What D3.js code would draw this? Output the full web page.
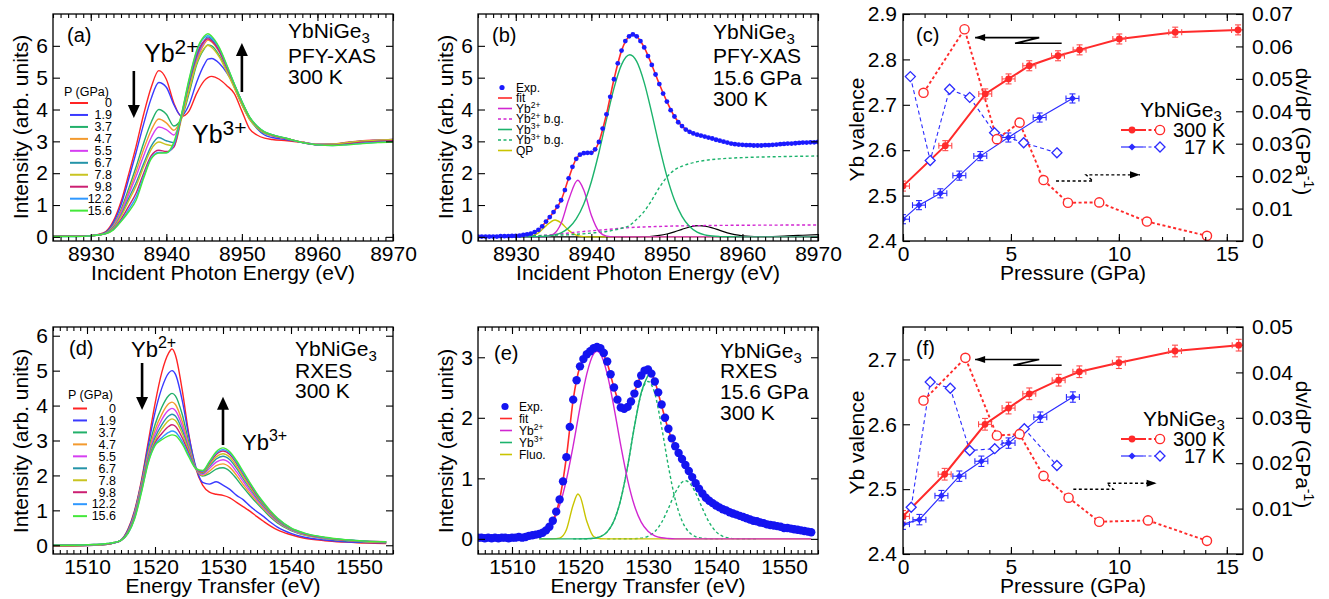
<!DOCTYPE html>
<html><head><meta charset="utf-8">
<script src="https://cdn.jsdelivr.net/npm/d3@7"></script>
<style>
body{margin:0;background:#fff;}
svg{display:block;}
</style></head><body>
<svg id="fig" width="1329" height="599"></svg>
<script>
// ---------------- DATA ----------------
// (a) PFY-XAS, 300 K
const pLabels = ["0","1.9","3.7","4.7","5.5","6.7","7.8","9.8","12.2","15.6"];
const eA = [8925,8928,8930,8931,8932,8933,8934,8935,8936,8937,8938,8939,8940,8941,8942,8943,8944,8945,8945.5,8946,8947,8948,8949,8950,8951,8952,8953,8954,8956,8958,8960,8962,8964,8966,8968,8970];
const xasP0   = [0.02,0.02,0.04,0.08,0.17,0.5,1.1,1.95,2.85,3.85,4.7,5.22,4.95,4.2,3.78,3.95,4.5,4.9,5.0,5.04,4.95,4.75,4.5,3.95,3.4,3.2,3.1,3.06,3.02,2.97,2.9,2.92,2.97,3.02,3.04,3.06];
const xasP19  = [0.02,0.02,0.04,0.07,0.15,0.45,1.0,1.8,2.65,3.55,4.35,4.85,4.7,4.15,3.8,4.15,4.85,5.4,5.58,5.6,5.45,5.15,4.75,4.25,3.75,3.4,3.2,3.12,3.05,2.97,2.91,2.91,2.96,3.01,3.04,3.06];
const xasP37  = [0.02,0.02,0.04,0.06,0.13,0.38,0.85,1.5,2.2,2.95,3.6,4.0,3.85,3.48,3.72,4.5,5.4,5.9,6.03,6.0,5.7,5.25,4.7,4.15,3.7,3.42,3.25,3.17,3.07,2.97,2.9,2.9,2.94,2.99,3.02,3.04];
const xasP47  = [0.02,0.02,0.04,0.06,0.12,0.35,0.8,1.4,2.05,2.75,3.35,3.7,3.58,3.35,3.74,4.6,5.5,6.05,6.18,6.12,5.8,5.3,4.75,4.2,3.72,3.44,3.27,3.18,3.08,2.97,2.9,2.9,2.95,3.0,3.03,3.05];
const xasP55  = [0.02,0.02,0.04,0.06,0.12,0.33,0.75,1.32,1.9,2.55,3.12,3.45,3.37,3.2,3.76,4.68,5.58,6.1,6.24,6.17,5.83,5.32,4.77,4.22,3.74,3.45,3.28,3.19,3.08,2.97,2.9,2.9,2.95,3.0,3.03,3.05];
const xasP67  = [0.02,0.02,0.04,0.06,0.11,0.3,0.68,1.2,1.7,2.3,2.85,3.12,3.02,2.96,3.76,4.78,5.66,6.15,6.28,6.2,5.86,5.34,4.78,4.23,3.75,3.46,3.28,3.2,3.08,2.96,2.89,2.89,2.94,2.99,3.02,3.04];
const xasP78  = [0.02,0.02,0.04,0.06,0.11,0.28,0.64,1.12,1.6,2.2,2.75,2.98,2.9,2.86,3.7,4.62,5.45,5.92,6.02,5.95,5.65,5.18,4.68,4.15,3.7,3.43,3.27,3.19,3.08,2.97,2.9,2.91,2.96,3.01,3.04,3.05];
const xasP98  = [0.02,0.02,0.03,0.06,0.1,0.25,0.55,0.95,1.38,2.0,2.55,2.72,2.68,2.82,3.8,4.85,5.72,6.15,6.22,6.15,5.85,5.33,4.78,4.23,3.76,3.47,3.29,3.2,3.08,2.96,2.89,2.88,2.92,2.97,3.0,3.02];
const xasP122 = [0.01,0.01,0.03,0.06,0.1,0.23,0.5,0.85,1.25,1.9,2.48,2.65,2.64,2.9,3.82,4.9,5.8,6.25,6.32,6.25,5.92,5.38,4.8,4.25,3.77,3.48,3.3,3.21,3.09,2.96,2.89,2.87,2.9,2.94,2.97,2.99];
const xasP156 = [0.01,0.01,0.03,0.06,0.1,0.22,0.48,0.78,1.15,1.84,2.45,2.63,2.64,2.98,3.85,4.95,5.85,6.3,6.38,6.3,5.95,5.4,4.8,4.25,3.78,3.48,3.3,3.21,3.09,2.96,2.89,2.87,2.89,2.93,2.96,2.98];

// (b) PFY-XAS fit at 15.6 GPa
const eBdots = d3.range(8925, 8970.001, 0.5);
const expB = [0.01,0.01,0.01,0.01,0.01,0.01,0.02,0.02,0.02,0.03,
  0.03,0.04,0.06,0.08,0.1,0.15,0.22,0.33,0.48,0.62,
  0.78,0.95,1.15,1.47,1.84,2.2,2.45,2.58,2.63,2.64,
  2.64,2.75,2.98,3.4,3.85,4.4,4.95,5.45,5.85,6.15,
  6.3,6.36,6.3,6.15,5.95,5.68,5.4,5.1,4.8,4.5,
  4.25,3.98,3.78,3.6,3.48,3.37,3.3,3.25,3.21,3.18,
  3.15,3.12,3.09,3.05,3.02,2.99,2.96,2.93,2.91,2.9,
  2.89,2.88,2.88,2.87,2.87,2.87,2.88,2.88,2.89,2.9,
  2.91,2.92,2.93,2.93,2.94,2.95,2.96,2.96,2.97,2.97,2.98];
const fitB = [[8925,0.02],[8926,0.02],[8927,0.02],[8928,0.02],[8929,0.03],[8930,0.04],[8931,0.06],[8932,0.1],[8933,0.22],[8934,0.48],[8935,0.78],[8936,1.15],[8937,1.84],[8938,2.45],[8939,2.63],[8940,2.64],[8941,2.98],[8942,3.85],[8943,4.95],[8944,5.85],[8945,6.3],[8945.5,6.36],[8946,6.3],[8947,5.95],[8948,5.4],[8949,4.8],[8950,4.25],[8951,3.78],[8952,3.48],[8953,3.3],[8954,3.21],[8955,3.15],[8956,3.09],[8957,3.02],[8958,2.96],[8959,2.91],[8960,2.89],[8961,2.88],[8962,2.87],[8963,2.88],[8964,2.89],[8965,2.91],[8966,2.93],[8967,2.94],[8968,2.96],[8969,2.97],[8970,2.98]];
const qpB = [[8925,0],[8930,0],[8931,0.003],[8932,0.026],[8933,0.127],[8934,0.346],[8935.2,0.53],[8936,0.438],[8937,0.203],[8938,0.052],[8939,0.007],[8940,0],[8970,0]];
const yb2B = [[8925,0],[8933,0],[8934,0.01],[8935,0.085],[8936,0.425],[8937,1.162],[8938.2,1.78],[8939,1.472],[8940,0.682],[8941,0.175],[8942,0.025],[8943,0],[8970,0]];
const yb2bgB = [[8925,0.01],[8930,0.02],[8933,0.04],[8935,0.07],[8937,0.12],[8939,0.17],[8941,0.21],[8943,0.25],[8945,0.29],[8948,0.32],[8951,0.34],[8955,0.355],[8960,0.365],[8965,0.37],[8970,0.375]];
const yb3B = [[8925,0],[8931,0],[8932,0.002],[8933,0.007],[8934,0.02],[8935,0.053],[8936,0.128],[8937,0.282],[8938,0.565],[8939,1.035],[8940,1.733],[8941,2.643],[8942,3.68],[8943,4.672],[8944,5.41],[8945.1,5.72],[8946,5.51],[8947,4.846],[8948,3.888],[8949,2.846],[8950,1.9],[8951,1.157],[8952,0.643],[8953,0.326],[8954,0.15],[8955,0.064],[8956,0.025],[8957,0.009],[8958,0.003],[8960,0],[8970,0]];
const yb3bgB = [[8925,0.02],[8930,0.03],[8935,0.05],[8938,0.08],[8940,0.12],[8942,0.17],[8943,0.21],[8944,0.27],[8945,0.35],[8946,0.55],[8947,0.8],[8948,1.15],[8949,1.55],[8950,1.88],[8951,2.1],[8952,2.22],[8953,2.3],[8955,2.4],[8957,2.45],[8960,2.49],[8965,2.52],[8970,2.54]];
const bkB = [[8925,0],[8946,0],[8947,0.007],[8948,0.018],[8949,0.044],[8950,0.089],[8951,0.156],[8952,0.237],[8953,0.309],[8954.3,0.35],[8955,0.337],[8956,0.283],[8957,0.204],[8958,0.127],[8959,0.068],[8960,0.032],[8961,0.013],[8962,0.005],[8963,0.006],[8964,0.012],[8966,0.03],[8968,0.05],[8970,0.07]];

// (d) RXES, 300 K
const eD = [1505,1508,1511,1513,1514,1515,1516,1517,1518,1519,1520,1521,1522,1522.5,1523,1524,1525,1526,1527,1528,1529,1530,1531,1532,1533,1534,1535,1536,1537,1538,1540,1542,1545,1548,1551,1554];
const rxP0   = [-0.02,-0.02,0,0.03,0.07,0.15,0.45,1.0,1.85,2.95,4.05,4.95,5.5,5.62,5.45,4.45,3.15,2.2,1.72,1.52,1.46,1.43,1.36,1.23,1.1,0.97,0.82,0.68,0.55,0.44,0.3,0.2,0.13,0.09,0.06,0.05];
const rxP19  = [-0.01,-0.01,0,0.03,0.07,0.15,0.43,0.97,1.8,2.85,3.8,4.5,4.93,5.0,4.9,4.15,3.1,2.25,1.8,1.75,1.82,1.72,1.6,1.43,1.3,1.12,0.96,0.82,0.66,0.52,0.34,0.23,0.15,0.1,0.08,0.07];
const rxP37  = [-0.01,-0.01,0.01,0.03,0.07,0.14,0.4,0.92,1.75,2.7,3.45,3.95,4.28,4.35,4.28,3.75,2.92,2.2,1.98,2.05,2.18,2.22,2.12,1.9,1.65,1.42,1.2,1.0,0.8,0.64,0.42,0.29,0.19,0.13,0.1,0.08];
const rxP47  = [-0.01,-0.01,0.01,0.03,0.07,0.14,0.38,0.9,1.72,2.62,3.3,3.75,4.05,4.1,4.03,3.55,2.84,2.2,2.0,2.12,2.28,2.33,2.23,2.0,1.73,1.48,1.25,1.04,0.84,0.67,0.44,0.3,0.2,0.14,0.1,0.08];
const rxP55  = [0,0,0.01,0.04,0.07,0.14,0.37,0.88,1.68,2.56,3.18,3.6,3.87,3.92,3.86,3.42,2.78,2.2,2.03,2.2,2.38,2.45,2.35,2.1,1.82,1.55,1.3,1.08,0.87,0.69,0.45,0.31,0.2,0.14,0.11,0.09];
const rxP67  = [0,0,0.01,0.04,0.07,0.14,0.36,0.85,1.65,2.5,3.08,3.45,3.7,3.75,3.7,3.3,2.72,2.2,2.06,2.26,2.47,2.55,2.45,2.2,1.9,1.62,1.35,1.12,0.9,0.71,0.46,0.32,0.21,0.15,0.11,0.09];
const rxP78  = [0,0,0.01,0.04,0.08,0.14,0.35,0.83,1.62,2.46,3.0,3.33,3.57,3.62,3.57,3.2,2.68,2.2,2.08,2.3,2.53,2.62,2.52,2.26,1.95,1.66,1.39,1.15,0.92,0.73,0.47,0.32,0.21,0.15,0.11,0.09];
const rxP98  = [0,0,0.02,0.04,0.08,0.14,0.34,0.8,1.58,2.42,2.93,3.2,3.4,3.45,3.41,3.08,2.62,2.2,2.1,2.35,2.6,2.7,2.6,2.34,2.02,1.72,1.43,1.18,0.95,0.75,0.48,0.33,0.22,0.15,0.12,0.1];
const rxP122 = [0,0,0.02,0.05,0.08,0.14,0.33,0.78,1.54,2.38,2.88,3.08,3.23,3.27,3.24,2.97,2.57,2.2,2.12,2.38,2.64,2.74,2.64,2.38,2.06,1.76,1.46,1.2,0.97,0.77,0.49,0.34,0.22,0.16,0.12,0.1];
const rxP156 = [0,0,0.02,0.05,0.08,0.14,0.33,0.75,1.5,2.35,2.85,3.02,3.13,3.16,3.14,2.9,2.52,2.2,2.14,2.4,2.68,2.79,2.68,2.42,2.1,1.78,1.48,1.22,0.98,0.78,0.5,0.35,0.23,0.16,0.12,0.1];

// (e) RXES fit at 15.6 GPa
const eEdots = d3.range(1505, 1554.001, 0.5);
const expE = [0.02,0.02,0.01,0.02,0.01,0.02,0.01,0.02,0.02,0.01,
  0.02,0.02,0.03,0.02,0.03,0.05,0.06,0.07,0.08,0.1,
  0.14,0.2,0.3,0.45,0.65,0.95,1.35,1.85,2.3,2.62,
  2.85,2.97,3.05,3.1,3.15,3.17,3.15,3.07,2.93,2.72,
  2.5,2.3,2.17,2.15,2.18,2.27,2.4,2.56,2.7,2.78,
  2.8,2.73,2.6,2.42,2.22,2.0,1.82,1.66,1.53,1.42,
  1.32,1.22,1.12,1.02,0.92,0.83,0.75,0.68,0.63,0.59,
  0.55,0.52,0.49,0.47,0.44,0.42,0.4,0.38,0.36,0.34,
  0.32,0.3,0.29,0.27,0.26,0.24,0.23,0.22,0.21,0.2,
  0.18,0.18,0.17,0.16,0.15,0.14,0.13,0.12,0.11];
const fitE = [[1514,0.07],[1515,0.15],[1516,0.3],[1517,0.65],[1518,1.35],[1519,2.3],[1520,2.85],[1521,3.04],[1522,3.13],[1522.5,3.16],[1523,3.12],[1524,2.9],[1525,2.5],[1526,2.2],[1527,2.18],[1528,2.42],[1529,2.71],[1530,2.81],[1531,2.6],[1532,2.2],[1533,1.8],[1534,1.52],[1535,1.33],[1536,1.13],[1537,0.93],[1538,0.75],[1539,0.63],[1540,0.55],[1541,0.49],[1542,0.44],[1544,0.36],[1546,0.29],[1548,0.23],[1550,0.18],[1552,0.14],[1554,0.11]];
const yb2E = [[1514,0.05],[1515,0.125],[1516,0.277],[1517,0.55],[1518,0.975],[1519,1.539],[1520,2.169],[1521,2.725],[1522,3.056],[1522.5,3.1],[1523,3.056],[1524,2.725],[1525,2.169],[1526,1.539],[1527,0.975],[1528,0.55],[1529,0.277],[1530,0.125],[1531,0.05],[1532,0.018],[1533,0.006],[1534,0],[1554,0]];
const fluoE = [[1514,0],[1516,0],[1517,0.013],[1518,0.15],[1519,0.564],[1519.7,0.74],[1520,0.704],[1521,0.29],[1522,0.039],[1523,0.002],[1524,0],[1554,0]];
const yb3E = [[1514,0],[1520,0],[1521,0.002],[1522,0.01],[1523,0.037],[1524,0.115],[1525,0.298],[1526,0.652],[1527,1.198],[1528,1.853],[1529,2.414],[1530,2.7]];
const yb3aE = [[1519,0],[1521,0.002],[1522,0.01],[1523,0.037],[1524,0.115],[1525,0.298],[1526,0.652],[1527,1.198],[1528,1.85],[1529,2.402],[1530,2.6],[1531,2.402],[1532,1.85],[1533,1.198],[1534,0.652],[1535,0.298],[1536,0.115],[1537,0.037],[1538,0.01],[1539,0.002],[1541,0]];
const yb3bE = [[1524,0],[1528,0.003],[1529,0.012],[1530,0.042],[1531,0.119],[1532,0.272],[1533,0.504],[1534,0.761],[1535,0.936],[1535.5,0.96],[1536,0.936],[1537,0.761],[1538,0.504],[1539,0.272],[1540,0.119],[1541,0.042],[1542,0.012],[1543,0.003],[1546,0]];

// (c) valence vs pressure, PFY-XAS
const pC300 = [0,1.96,3.81,4.89,5.85,7.18,8.18,10.02,12.61,15.52];
const vC300 = [2.521,2.61,2.724,2.757,2.786,2.808,2.821,2.845,2.86,2.865];
const pC17 = [0,0.74,1.73,2.61,3.58,4.88,6.33,7.85];
const vC17 = [2.448,2.479,2.505,2.544,2.587,2.628,2.672,2.714];
const dpC300 = [0.95,2.85,4.35,5.4,6.51,7.64,9.09,11.3,14.08];
const dvC300 = [0.0457,0.0653,0.0314,0.0365,0.0188,0.0118,0.0119,0.006,0.0016];
const dpC17 = [0.34,1.26,2.16,3.09,4.24,5.59,7.13];
const dvC17 = [0.0507,0.0248,0.0468,0.0443,0.0334,0.0303,0.0272];

// (f) valence vs pressure, RXES
const pF300 = [0,1.93,3.8,4.89,5.85,7.21,8.17,10.0,12.6,15.55];
const vF300 = [2.458,2.523,2.6,2.625,2.647,2.668,2.681,2.695,2.713,2.722];
const pF17 = [0,0.76,1.78,2.61,3.63,4.89,6.36,7.87];
const vF17 = [2.446,2.453,2.49,2.52,2.543,2.571,2.611,2.642];
const dpF300 = [0.95,2.89,4.35,5.4,6.51,7.67,9.09,11.35,14.08];
const dvF300 = [0.0338,0.0432,0.0261,0.0264,0.0172,0.0124,0.0071,0.0074,0.0029];
const dpF17 = [0.38,1.26,2.19,3.09,4.25,5.62,7.13];
const dvF17 = [0.0103,0.0379,0.0365,0.0228,0.0232,0.0276,0.0195];
const pErr = 0.3;

// tick values
const xTicksXAS = [8930,8940,8950,8960,8970];
const xTicksRXES = [1510,1520,1530,1540,1550];
const xTicksP = [0,5,10,15];
const yTicksInt6 = [0,1,2,3,4,5,6];
const yTicksInt3 = [0,1,2,3];
const yTicksValC = [2.4,2.5,2.6,2.7,2.8,2.9];
const yTicksValF = [2.4,2.5,2.6,2.7];
const yTicksDvC = [0,0.01,0.02,0.03,0.04,0.05,0.06,0.07];
const yTicksDvF = [0,0.01,0.02,0.03,0.04,0.05];

// ---------------- STYLE ----------------
const FONT = "'Liberation Sans', Arial, Helvetica, sans-serif";
const pColors = ["#ff2424","#3a3aff","#22b06a","#f39a2e","#d63ff2","#2494a8","#c9c422","#cc1f72","#2f98ff","#44e83a"];
const RED = "#ff2a2a", BLUE = "#2b2bff", MAG = "#d126d1", GRN = "#1cb36c", YEL = "#c9c400";

const svg = d3.select("#fig").attr("font-family", FONT);
svg.append("rect").attr("width",1329).attr("height",599).attr("fill","#fff");

let clipN = 0;
function panel(f, xd, yd) {
  const x = d3.scaleLinear().domain(xd).range([f.l, f.r]);
  const y = d3.scaleLinear().domain(yd).range([f.b, f.t]);
  const g = svg.append("g");
  const id = "clip" + (clipN++);
  svg.append("clipPath").attr("id", id).append("rect")
    .attr("x", f.l).attr("y", f.t).attr("width", f.r - f.l).attr("height", f.b - f.t);
  const data = g.append("g").attr("clip-path", `url(#${id})`);
  return {x, y, g, f, data};
}

function frameAxes(p, c) {
  const {x, y, g, f} = p;
  const ax = g.append("g");
  const add = (axis, tx, ty) => ax.append("g").attr("transform", `translate(${tx},${ty})`).call(axis);
  add(d3.axisBottom(x).tickValues(c.xMinor).tickSize(-4).tickFormat(""), 0, f.b);
  add(d3.axisTop(x).tickValues(c.xMinor).tickSize(-4).tickFormat(""), 0, f.t);
  add(d3.axisBottom(x).tickValues(c.xMajor).tickSize(-7).tickPadding(5).tickFormat(c.xFmt), 0, f.b);
  add(d3.axisTop(x).tickValues(c.xMajor).tickSize(-7).tickFormat(""), 0, f.t);
  add(d3.axisLeft(y).tickValues(c.yMajor).tickSize(-7).tickPadding(c.yPad).tickFormat(c.yFmt), f.l, 0);
  if (c.yR) {
    add(d3.axisRight(c.yR).tickValues(c.yRMajor).tickSize(-7).tickPadding(9).tickFormat(c.yRFmt), f.r, 0);
  } else {
    add(d3.axisRight(y).tickValues(c.yMajor).tickSize(-7).tickFormat(""), f.r, 0);
  }
  ax.selectAll(".domain").remove();
  ax.selectAll(".tick line").attr("stroke", "#000").attr("stroke-width", 1.1);
  ax.selectAll(".tick text").attr("font-size", 21).attr("font-family", FONT).attr("fill", "#000");
  g.append("rect").attr("x", f.l).attr("y", f.t).attr("width", f.r - f.l).attr("height", f.b - f.t)
    .attr("fill", "none").attr("stroke", "#000").attr("stroke-width", 1.3);
}

function rich(g, x, y, parts, size, anchor) {
  const t = g.append("text").attr("x", x).attr("y", y).attr("font-size", size)
    .attr("text-anchor", anchor || "start").attr("fill", "#000");
  let shift = 0;
  parts.forEach(pt => {
    const [s, k, fs, off] = pt;
    const target = k === "sup" ? -off : k === "sub" ? off : 0;
    t.append("tspan").attr("dy", target - shift).attr("font-size", k === "n" ? size : fs).text(s);
    shift = target;
  });
  return t;
}
function xTitle(p, s, yb) {
  p.g.append("text").attr("x", (p.f.l + p.f.r) / 2).attr("y", yb).attr("text-anchor", "middle")
    .attr("font-size", 21).text(s);
}
function yTitle(g, s, x0, yc) {
  g.append("text").attr("transform", `translate(${x0},${yc}) rotate(-90)`).attr("text-anchor", "middle")
    .attr("font-size", 21).text(s);
}
function curve(p, pts, color, w, dash) {
  const ln = d3.line().x(d => p.x(d[0])).y(d => p.y(d[1])).curve(d3.curveMonotoneX);
  const path = p.data.append("path").attr("d", ln(pts)).attr("fill", "none")
    .attr("stroke", color).attr("stroke-width", w).attr("stroke-linejoin", "round");
  if (dash) path.attr("stroke-dasharray", dash);
  return path;
}
function arrowV(g, x, y1, y2) {
  const dir = Math.sign(y2 - y1);
  g.append("line").attr("x1", x).attr("x2", x).attr("y1", y1).attr("y2", y2 - dir * 9)
    .attr("stroke", "#000").attr("stroke-width", 2.6);
  g.append("path").attr("d", `M${x},${y2} L${x - 6},${y2 - dir * 13} L${x + 6},${y2 - dir * 13} Z`).attr("fill", "#000");
}
function zigArrow(g, pts, dashed, headDir) {
  const ln = d3.line();
  const p = g.append("path").attr("d", ln(pts)).attr("fill", "none").attr("stroke", "#000")
    .attr("stroke-width", dashed ? 1.4 : 1.6);
  if (dashed) p.attr("stroke-dasharray", "3,2.5");
  const [tx, ty] = pts[pts.length - 1];
  g.append("path").attr("d", `M${tx},${ty} L${tx - headDir * 10},${ty - 3.5} L${tx - headDir * 10},${ty + 3.5} Z`).attr("fill", "#000");
}

const FA = {l:53, r:393, t:14, b:241};
const FB = {l:478, r:818, t:14, b:241};
const FC = {l:903, r:1243, t:14, b:241};
const FD = {l:53, r:393, t:327, b:554};
const FE = {l:478, r:818, t:327, b:554};
const FF = {l:903, r:1243, t:327, b:554};

const minorXAS = d3.range(8925, 8970.5, 1);
const minorRXES = d3.range(1505, 1555.5, 1);
const minorP = d3.range(0, 15.5, 1);
const fmtD = d3.format("d");
const LEGFS = 12.5;

// ---------------- PANEL (a) ----------------
(function () {
  const p = panel(FA, [8925, 8970], [-0.13, 7.0]);
  const series = [xasP0, xasP19, xasP37, xasP47, xasP55, xasP67, xasP78, xasP98, xasP122, xasP156];
  series.forEach((arr, i) => curve(p, eA.map((e, j) => [e, arr[j]]), pColors[i], 1.4));
  frameAxes(p, {xMajor: xTicksXAS, xMinor: minorXAS, xFmt: fmtD, yMajor: yTicksInt6, yFmt: fmtD, yPad: 5});
  xTitle(p, "Incident Photon Energy (eV)", 280);
  yTitle(p.g, "Intensity (arb. units)", 28, 127);
  p.g.append("text").attr("x", 67).attr("y", 42).attr("font-size", 20).text("(a)");
  rich(p.g, 288, 38, [["YbNiGe","n"],["3","sub",15,5]], 21);
  p.g.append("text").attr("x", 288).attr("y", 63).attr("font-size", 21).text("PFY-XAS");
  p.g.append("text").attr("x", 288).attr("y", 84).attr("font-size", 21).text("300 K");
  rich(p.g, 144, 62, [["Yb","n"],["2+","sup",21,8]], 25);
  rich(p.g, 192, 143, [["Yb","n"],["3+","sup",21,8]], 25);
  arrowV(p.g, p.x(8935.7), p.y(5.21), p.y(3.73));
  arrowV(p.g, p.x(8950), p.y(4.55), p.y(6.09));
  p.g.append("text").attr("x", 64).attr("y", 96).attr("font-size", LEGFS).text("P (GPa)");
  pLabels.forEach((s, i) => {
    const yy = 103 + i * 11.96;
    p.g.append("line").attr("x1", 70).attr("x2", 88).attr("y1", yy).attr("y2", yy)
      .attr("stroke", pColors[i]).attr("stroke-width", 2);
    p.g.append("text").attr("x", 112).attr("y", yy + 4.3).attr("text-anchor", "end").attr("font-size", LEGFS).text(s);
  });
})();

// ---------------- PANEL (b) ----------------
(function () {
  const p = panel(FB, [8925, 8970], [-0.13, 7.0]);
  curve(p, bkB, "#000", 1.2);
  curve(p, qpB, YEL, 1.4);
  curve(p, yb2bgB, MAG, 1.4, "3,2.5");
  curve(p, yb3bgB, GRN, 1.4, "3,2.5");
  curve(p, yb2B, MAG, 1.4);
  curve(p, yb3B, GRN, 1.4);
  curve(p, fitB, RED, 1.6);
  p.data.selectAll("circle.exp").data(eBdots.map((e, i) => [e, expB[i]])).enter().append("circle")
    .attr("cx", d => p.x(d[0])).attr("cy", d => p.y(d[1])).attr("r", 2.4).attr("fill", "#1a1aff");
  frameAxes(p, {xMajor: xTicksXAS, xMinor: minorXAS, xFmt: fmtD, yMajor: yTicksInt6, yFmt: fmtD, yPad: 5});
  xTitle(p, "Incident Photon Energy (eV)", 280);
  yTitle(p.g, "Intensity (arb. units)", 453, 127);
  p.g.append("text").attr("x", 492).attr("y", 42).attr("font-size", 20).text("(b)");
  rich(p.g, 713, 39, [["YbNiGe","n"],["3","sub",15,5]], 21);
  p.g.append("text").attr("x", 713).attr("y", 63).attr("font-size", 21).text("PFY-XAS");
  p.g.append("text").attr("x", 713).attr("y", 85).attr("font-size", 21).text("15.6 GPa");
  p.g.append("text").attr("x", 713).attr("y", 106).attr("font-size", 21).text("300 K");
  const L = p.g.append("g");
  const rows = [87.5, 98, 108.5, 119, 129.5, 140, 150.5];
  L.append("circle").attr("cx", 502).attr("cy", rows[0]).attr("r", 2.6).attr("fill", "#1a1aff");
  const lines = [[RED, null], [MAG, null], [MAG, "3,2.5"], [GRN, null], [GRN, "3,2.5"], [YEL, null]];
  lines.forEach(([c, d], i) => {
    const ln = L.append("line").attr("x1", 498).attr("x2", 512).attr("y1", rows[i + 1]).attr("y2", rows[i + 1])
      .attr("stroke", c).attr("stroke-width", 1.6);
    if (d) ln.attr("stroke-dasharray", d);
  });
  const tx = 516, fs = 12;
  L.append("text").attr("x", tx).attr("y", rows[0] + 4.2).attr("font-size", fs).text("Exp.");
  L.append("text").attr("x", tx).attr("y", rows[1] + 4.2).attr("font-size", fs).text("fit");
  rich(L, tx, rows[2] + 4.2, [["Yb","n"],["2+","sup",8.5,4.5]], fs);
  rich(L, tx, rows[3] + 4.2, [["Yb","n"],["2+","sup",8.5,4.5],[" b.g.","n"]], fs);
  rich(L, tx, rows[4] + 4.2, [["Yb","n"],["3+","sup",8.5,4.5]], fs);
  rich(L, tx, rows[5] + 4.2, [["Yb","n"],["3+","sup",8.5,4.5],[" b.g.","n"]], fs);
  L.append("text").attr("x", tx).attr("y", rows[6] + 4.2).attr("font-size", fs).text("QP");
})();

// ---------------- valence panels (c), (f) ----------------
function valencePanel(F, yLd, yRd, yLt, yRt, d, label, ann) {
  const p = panel(F, [0, 15.75], yLd);
  const yR = d3.scaleLinear().domain(yRd).range([F.b, F.t]);
  const lin = (xs, ys, sc) => d3.line().x((v, i) => p.x(xs[i])).y((v, i) => sc(ys[i]))(ys);
  p.data.append("path").attr("d", lin(d.dp17, d.dv17, yR)).attr("fill", "none").attr("stroke", BLUE)
    .attr("stroke-width", 1.1).attr("stroke-dasharray", "4,3");
  p.data.append("path").attr("d", lin(d.dp300, d.dv300, yR)).attr("fill", "none").attr("stroke", RED)
    .attr("stroke-width", 1.9).attr("stroke-dasharray", "3,2.5");
  p.data.append("path").attr("d", lin(d.p17, d.v17, p.y)).attr("fill", "none").attr("stroke", BLUE).attr("stroke-width", 1.2);
  p.data.append("path").attr("d", lin(d.p300, d.v300, p.y)).attr("fill", "none").attr("stroke", RED).attr("stroke-width", 2);
  const eb = (xs, ys, ye, col) => xs.forEach((xv, i) => {
    const cx = p.x(xv), cy = p.y(ys[i]);
    const x1 = p.x(xv - pErr), x2 = p.x(xv + pErr), y1 = p.y(ys[i] - ye), y2 = p.y(ys[i] + ye);
    const G = p.data.append("g").attr("stroke", col).attr("stroke-width", 1.1);
    G.append("line").attr("x1", x1).attr("x2", x2).attr("y1", cy).attr("y2", cy);
    G.append("line").attr("x1", x1).attr("x2", x1).attr("y1", cy - 3).attr("y2", cy + 3);
    G.append("line").attr("x1", x2).attr("x2", x2).attr("y1", cy - 3).attr("y2", cy + 3);
    G.append("line").attr("x1", cx).attr("x2", cx).attr("y1", y1).attr("y2", y2);
    G.append("line").attr("x1", cx - 3).attr("x2", cx + 3).attr("y1", y1).attr("y2", y1);
    G.append("line").attr("x1", cx - 3).attr("x2", cx + 3).attr("y1", y2).attr("y2", y2);
  });
  eb(d.p17, d.v17, d.e17, BLUE);
  eb(d.p300, d.v300, d.e300, "#ff4a4a");
  const diamond = (cx, cy, s) => `M${cx},${cy - s} L${cx + s},${cy} L${cx},${cy + s} L${cx - s},${cy} Z`;
  d.p17.forEach((xv, i) => p.data.append("path").attr("d", diamond(p.x(xv), p.y(d.v17[i]), 3.6)).attr("fill", BLUE));
  d.p300.forEach((xv, i) => p.data.append("circle").attr("cx", p.x(xv)).attr("cy", p.y(d.v300[i])).attr("r", 3.4).attr("fill", RED));
  d.dp17.forEach((xv, i) => p.data.append("path").attr("d", diamond(p.x(xv), yR(d.dv17[i]), 5)).attr("fill", "#fff")
    .attr("stroke", BLUE).attr("stroke-width", 1.3));
  d.dp300.forEach((xv, i) => p.data.append("circle").attr("cx", p.x(xv)).attr("cy", yR(d.dv300[i])).attr("r", 4.6)
    .attr("fill", "#fff").attr("stroke", RED).attr("stroke-width", 1.4));
  frameAxes(p, {xMajor: xTicksP, xMinor: minorP, xFmt: fmtD, yMajor: yLt, yFmt: d3.format(".1f"), yPad: 6,
    yR: yR, yRMajor: yRt, yRFmt: v => v === 0 ? "0" : d3.format(".2f")(v)});
  xTitle(p, "Pressure (GPa)", F.b + 39);
  yTitle(p.g, "Yb valence", 864, (F.t + F.b) / 2 + 2);
  const rt = p.g.append("text").attr("transform", `translate(1296,${(F.t + F.b) / 2 + 4}) rotate(90)`)
    .attr("text-anchor", "middle").attr("font-size", 21);
  rt.append("tspan").text("dv/dP (GPa");
  rt.append("tspan").attr("dy", -8).attr("font-size", 14).text("-1");
  rt.append("tspan").attr("dy", 8).text(")");
  p.g.append("text").attr("x", 916).attr("y", F.t + 28).attr("font-size", 20).text(label);
  zigArrow(p.g, ann.solid.map(q => [p.x(q[0]), p.y(q[1])]), false, -1);
  zigArrow(p.g, ann.dash.map(q => [p.x(q[0]), yR(q[1])]), true, 1);
  const Lg = p.g.append("g");
  rich(Lg, ann.leg[0], ann.leg[1], [["YbNiGe","n"],["3","sub",15,4]], 21);
  const r1 = ann.leg[1] + 13, r2 = ann.leg[1] + 30;
  [[r1, RED, "300 K", 1173], [r2, BLUE, "17 K", 1184]].forEach(([yy, c, s, tx], k) => {
    Lg.append("line").attr("x1", 1121).attr("x2", 1143).attr("y1", yy).attr("y2", yy).attr("stroke", c).attr("stroke-width", k ? 1.2 : 2);
    Lg.append("line").attr("x1", 1143).attr("x2", 1156).attr("y1", yy).attr("y2", yy).attr("stroke", c)
      .attr("stroke-width", k ? 1.1 : 1.9).attr("stroke-dasharray", "3,2.5");
    if (k === 0) {
      Lg.append("circle").attr("cx", 1132).attr("cy", yy).attr("r", 3.4).attr("fill", c);
      Lg.append("circle").attr("cx", 1160).attr("cy", yy).attr("r", 4.6).attr("fill", "#fff").attr("stroke", c).attr("stroke-width", 1.4);
    } else {
      Lg.append("path").attr("d", diamond(1132, yy, 3.6)).attr("fill", c);
      Lg.append("path").attr("d", diamond(1160, yy, 5)).attr("fill", "#fff").attr("stroke", c).attr("stroke-width", 1.3);
    }
    Lg.append("text").attr("x", tx).attr("y", yy + 7).attr("font-size", 20).text(s);
  });
}

valencePanel(FC, [2.4, 2.9], [0, 0.07], yTicksValC, yTicksDvC,
  {p300: pC300, v300: vC300, p17: pC17, v17: vC17, dp300: dpC300, dv300: dvC300, dp17: dpC17, dv17: dvC17, e300: 0.011, e17: 0.01},
  "(c)",
  {solid: [[7.35, 2.8355], [5.19, 2.8355], [6.31, 2.848], [3.34, 2.848]],
   dash: [[7.09, 0.0185], [8.8, 0.0185], [8.48, 0.0204], [10.98, 0.0204]],
   leg: [1140, 117]});

valencePanel(FF, [2.4, 2.75], [0, 0.05], yTicksValF, yTicksDvF,
  {p300: pF300, v300: vF300, p17: pF17, v17: vF17, dp300: dpF300, dv300: dvF300, dp17: dpF17, dv17: dvF17, e300: 0.009, e17: 0.008},
  "(f)",
  {solid: [[7.35, 2.691], [5.11, 2.691], [6.31, 2.700], [3.34, 2.700]],
   dash: [[7.89, 0.01425], [9.74, 0.01425], [9.44, 0.01557], [11.75, 0.01557]],
   leg: [1143, 426]});

// ---------------- PANEL (d) ----------------
(function () {
  const p = panel(FD, [1505, 1555], [-0.25, 6.25]);
  const series = [rxP0, rxP19, rxP37, rxP47, rxP55, rxP67, rxP78, rxP98, rxP122, rxP156];
  series.forEach((arr, i) => curve(p, eD.map((e, j) => [e, arr[j]]), pColors[i], 1.4));
  frameAxes(p, {xMajor: xTicksRXES, xMinor: minorRXES, xFmt: fmtD, yMajor: yTicksInt6, yFmt: fmtD, yPad: 5});
  xTitle(p, "Energy Transfer (eV)", 593);
  yTitle(p.g, "Intensity (arb. units)", 28, 441);
  p.g.append("text").attr("x", 69).attr("y", 355).attr("font-size", 20).text("(d)");
  rich(p.g, 295, 356, [["YbNiGe","n"],["3","sub",15,5]], 21);
  p.g.append("text").attr("x", 295).attr("y", 378).attr("font-size", 21).text("RXES");
  p.g.append("text").attr("x", 295).attr("y", 398).attr("font-size", 21).text("300 K");
  rich(p.g, 131, 357, [["Yb","n"],["2+","sup",16,9]], 22);
  rich(p.g, 242, 450, [["Yb","n"],["3+","sup",16,9]], 22);
  arrowV(p.g, p.x(1518.1), p.y(5.22), p.y(3.87));
  arrowV(p.g, p.x(1530), p.y(2.87), p.y(4.25));
  p.g.append("text").attr("x", 68).attr("y", 399).attr("font-size", LEGFS).text("P (GPa)");
  pLabels.forEach((s, i) => {
    const yy = 408.5 + i * 11.96;
    p.g.append("line").attr("x1", 73).attr("x2", 87).attr("y1", yy).attr("y2", yy)
      .attr("stroke", pColors[i]).attr("stroke-width", 2);
    p.g.append("text").attr("x", 116).attr("y", yy + 4.3).attr("text-anchor", "end").attr("font-size", LEGFS).text(s);
  });
})();

// ---------------- PANEL (e) ----------------
(function () {
  const p = panel(FE, [1505, 1555], [-0.25, 3.5]);
  curve(p, yb3aE, GRN, 1.4, "3,2.5");
  curve(p, yb3bE, GRN, 1.4, "3,2.5");
  curve(p, fluoE, YEL, 1.4);
  curve(p, yb3E, GRN, 1.4);
  curve(p, yb2E, MAG, 1.4);
  curve(p, fitE, RED, 1.6);
  p.data.selectAll("circle.exp").data(eEdots.map((e, i) => [e, expE[i]])).enter().append("circle")
    .attr("cx", d => p.x(d[0])).attr("cy", d => p.y(d[1])).attr("r", 4.2).attr("fill", "#1414f0");
  frameAxes(p, {xMajor: xTicksRXES, xMinor: minorRXES, xFmt: fmtD, yMajor: yTicksInt3, yFmt: fmtD, yPad: 5});
  xTitle(p, "Energy Transfer (eV)", 593);
  yTitle(p.g, "Intensity (arb. units)", 453, 441);
  p.g.append("text").attr("x", 494).attr("y", 360).attr("font-size", 20).text("(e)");
  rich(p.g, 720, 358, [["YbNiGe","n"],["3","sub",15,5]], 21);
  p.g.append("text").attr("x", 720).attr("y", 378).attr("font-size", 21).text("RXES");
  p.g.append("text").attr("x", 720).attr("y", 399).attr("font-size", 21).text("15.6 GPa");
  p.g.append("text").attr("x", 720).attr("y", 420).attr("font-size", 21).text("300 K");
  const L = p.g.append("g");
  const rows = [406.5, 418.5, 430.5, 442.5, 454.5];
  L.append("circle").attr("cx", 505).attr("cy", rows[0]).attr("r", 3.6).attr("fill", "#1414f0");
  [RED, MAG, GRN, YEL].forEach((c, i) => L.append("line").attr("x1", 500).attr("x2", 512)
    .attr("y1", rows[i + 1]).attr("y2", rows[i + 1]).attr("stroke", c).attr("stroke-width", 1.6));
  const tx = 519, fs = 12;
  L.append("text").attr("x", tx).attr("y", rows[0] + 4.2).attr("font-size", fs).text("Exp.");
  L.append("text").attr("x", tx).attr("y", rows[1] + 4.2).attr("font-size", fs).text("fit");
  rich(L, tx, rows[2] + 4.2, [["Yb","n"],["2+","sup",8.5,4.5]], fs);
  rich(L, tx, rows[3] + 4.2, [["Yb","n"],["3+","sup",8.5,4.5]], fs);
  L.append("text").attr("x", tx).attr("y", rows[4] + 4.2).attr("font-size", fs).text("Fluo.");
})();
</script></body></html>
